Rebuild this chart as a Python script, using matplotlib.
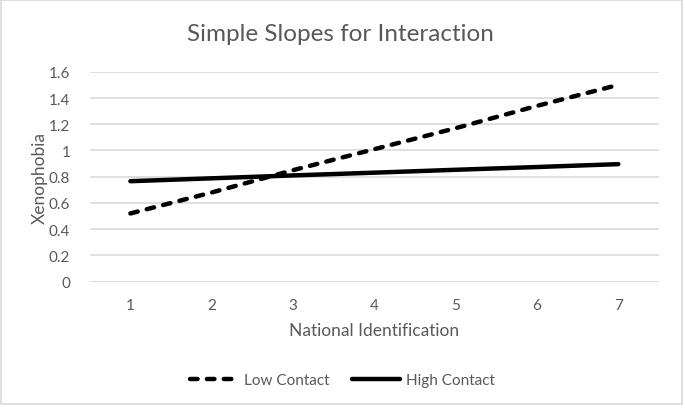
import matplotlib.pyplot as plt
from matplotlib.patches import Rectangle

# data
national_id = [1, 2, 3, 4, 5, 6, 7]
low_contact = [0.52, 0.68, 0.85, 1.01, 1.17, 1.34, 1.50]
high_contact = [0.766, 0.788, 0.81, 0.831, 0.853, 0.874, 0.896]
y_ticks = [0, 0.2, 0.4, 0.6, 0.8, 1, 1.2, 1.4, 1.6]
y_labels = ['0', '0.2', '0.4', '0.6', '0.8', '1', '1.2', '1.4', '1.6']

plt.rcParams['font.family'] = ['Lato', 'DejaVu Sans']
grey_txt = '#595959'
grid_col = '#d9d9d9'

fig = plt.figure(figsize=(6.85, 4.10), dpi=100)
ax = fig.add_axes([0.131, 0.3105, 0.831, 0.512])

ax.plot(national_id, low_contact, color='black', lw=3.2, dashes=(1.7, 2.1),
        dash_capstyle='round', label='Low Contact')
ax.plot(national_id, high_contact, color='black', lw=3.2,
        solid_capstyle='round', label='High Contact')

ax.set_xlim(0.5, 7.5)
ax.set_ylim(0, 1.6)
ax.set_yticks(y_ticks)
ax.set_yticklabels(y_labels)
ax.set_xticks(national_id)
ax.yaxis.grid(True, color=grid_col, lw=1.2)
ax.set_axisbelow(True)
for s in ax.spines.values():
    s.set_visible(False)
ax.tick_params(length=0, colors=grey_txt, labelsize=11)
ax.tick_params(axis='y', pad=14)
ax.tick_params(axis='x', pad=12)

ax.set_xlabel('National Identification', color=grey_txt, fontsize=12.5, labelpad=7)
ax.set_ylabel('Xenophobia', color=grey_txt, fontsize=12.5, labelpad=1)
fig.text(0.497, 0.915, 'Simple Slopes for Interaction', color=grey_txt,
         fontsize=17.5, ha='center', va='center')

leg = fig.legend(loc='center', bbox_to_anchor=(0.5, 0.07), ncol=2, frameon=False,
                 fontsize=11, handlelength=3.1, columnspacing=1.5, handletextpad=0.4)
for t in leg.get_texts():
    t.set_color(grey_txt)

fig.patches.append(Rectangle((0.002, 0.012), 0.993, 0.985, transform=fig.transFigure,
                             fill=False, edgecolor=grid_col, lw=1.2))

fig.savefig('out.png', dpi=100)
